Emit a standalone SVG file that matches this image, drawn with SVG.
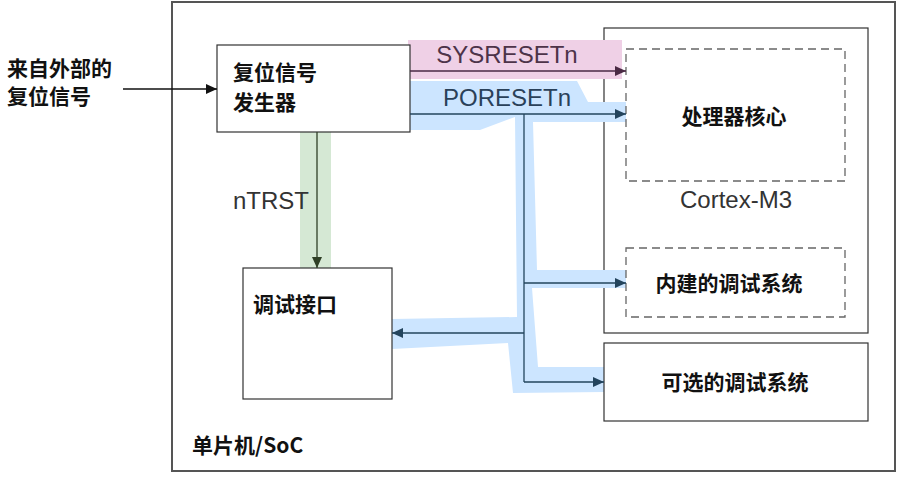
<svg xmlns="http://www.w3.org/2000/svg" width="910" height="486" viewBox="0 0 910 486">
<defs>
<style>
.box{fill:#fff;stroke:#333;stroke-width:1.2}
.dash{fill:none;stroke:#666;stroke-width:1.3;stroke-dasharray:8,5}
.cn{font-family:"Noto Sans CJK SC","Noto Sans",sans-serif;font-weight:bold;font-size:21px;fill:#111}
.en{font-family:"Liberation Sans",Arial,sans-serif;font-size:24px}
</style>
<marker id="aBlk" markerUnits="userSpaceOnUse" markerWidth="12" markerHeight="12" refX="11" refY="6" orient="auto"><path d="M0,1 L11,6 L0,11 Z" fill="#111"/></marker>
<marker id="aPur" markerUnits="userSpaceOnUse" markerWidth="12" markerHeight="12" refX="11" refY="6" orient="auto"><path d="M0,1 L11,6 L0,11 Z" fill="#4a2a44"/></marker>
<marker id="aBlu" markerUnits="userSpaceOnUse" markerWidth="12" markerHeight="12" refX="11" refY="6" orient="auto"><path d="M0,1 L11,6 L0,11 Z" fill="#23445d"/></marker>
<marker id="aGrn" markerUnits="userSpaceOnUse" markerWidth="12" markerHeight="12" refX="11" refY="6" orient="auto"><path d="M0,1 L11,6 L0,11 Z" fill="#2f3f26"/></marker>
</defs>
<rect width="910" height="486" fill="#fff"/>

<g id="soc">
<rect x="172" y="2" width="723" height="469" fill="#fff" stroke="#555" stroke-width="2"/>
<text class="cn" x="192" y="453" font-size="20">单片机/SoC</text>
</g>

<g id="cortex">
<rect class="box" x="604" y="28" width="264" height="305"/>
<text class="en" x="736" y="208" text-anchor="middle" fill="#333">Cortex-M3</text>
</g>

<g id="bands">
<rect x="408" y="40" width="214" height="39" fill="#efd0e6"/>
<rect x="300" y="132" width="31" height="136" fill="#d5e8d4"/>
<polygon fill="#cce5ff" points="410,81 577,81 588,102 626,102 626,122 533,122 537,270 626,270 626,288 532,288 538,367 604,367 604,392 513,393 508,343 392,349 392,319 517,317 515,117 480,130 410,130"/>
</g>

<g id="core">
<rect class="dash" x="626" y="49" width="219" height="132"/>
<text class="cn" x="734" y="124" text-anchor="middle">处理器核心</text>
</g>

<g id="builtin-debug">
<rect class="dash" x="626" y="248" width="219" height="69"/>
<text class="cn" x="729" y="291" text-anchor="middle">内建的调试系统</text>
</g>

<g id="optional-debug">
<rect class="box" x="604" y="343" width="264" height="78"/>
<text class="cn" x="735" y="390" text-anchor="middle">可选的调试系统</text>
</g>

<g id="reset-gen">
<rect class="box" x="217" y="45" width="193" height="87"/>
<text class="cn" x="233" y="80">复位信号</text>
<text class="cn" x="233" y="110">发生器</text>
</g>

<g id="debug-if">
<rect class="box" x="243" y="268" width="149" height="131"/>
<text class="cn" x="253" y="312">调试接口</text>
</g>

<g id="ext-label">
<text class="cn" x="7" y="76">来自外部的</text>
<text class="cn" x="7" y="104">复位信号</text>
</g>

<g id="connectors" fill="none" stroke-width="1.3">
<line x1="123" y1="89" x2="217" y2="89" stroke="#111" marker-end="url(#aBlk)"/>
<line x1="410" y1="71" x2="626" y2="71" stroke="#4a2a44" marker-end="url(#aPur)"/>
<line x1="410" y1="114" x2="626" y2="114" stroke="#23445d" marker-end="url(#aBlu)"/>
<polyline points="524,114 524,382" stroke="#23445d"/>
<line x1="524" y1="283" x2="626" y2="283" stroke="#23445d" marker-end="url(#aBlu)"/>
<line x1="524" y1="333" x2="392" y2="333" stroke="#23445d" marker-end="url(#aBlu)"/>
<line x1="524" y1="382" x2="604" y2="382" stroke="#23445d" marker-end="url(#aBlu)"/>
<line x1="317" y1="132" x2="317" y2="268" stroke="#2f3f26" marker-end="url(#aGrn)"/>
<text class="en" x="507" y="63" text-anchor="middle" fill="#4d3349" stroke="none">SYSRESETn</text>
<text class="en" x="507" y="106" text-anchor="middle" fill="#2a4159" stroke="none">PORESETn</text>
<text class="en" x="233" y="209" fill="#333" stroke="none">nTRST</text>
</g>
</svg>
